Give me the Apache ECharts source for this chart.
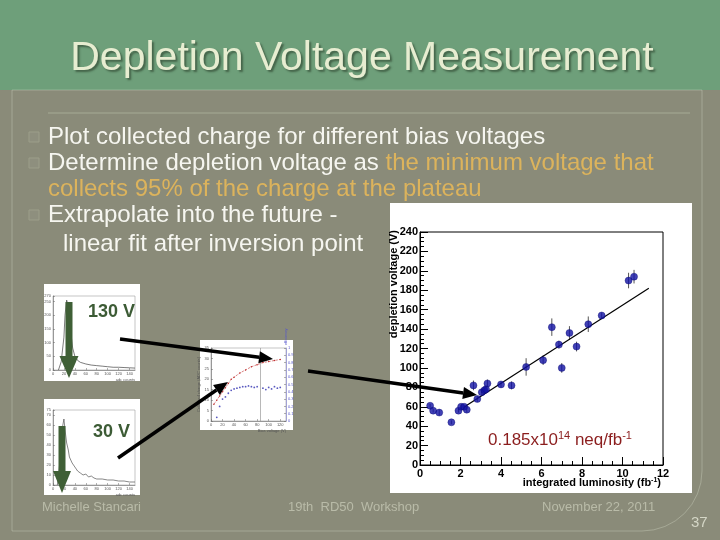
<!DOCTYPE html>
<html>
<head>
<meta charset="utf-8">
<script src="https://cdn.jsdelivr.net/npm/echarts@6/dist/echarts.min.js"></script>
<style>
html,body{margin:0;padding:0;background:#8a8b79;}
#chart{width:720px;height:540px;}
</style>
</head>
<body>
<div id="chart"></div>
<script>
// main plot: depletion voltage vs integrated luminosity
var lumi    = [0.50, 0.65, 0.95, 1.55, 1.90, 2.03, 2.18, 2.31, 2.64, 2.83, 3.05, 3.18, 3.26, 3.33, 4.00, 4.52, 5.24, 6.08, 6.51, 6.86, 7.00, 7.38, 7.73, 8.31, 8.97, 10.30, 10.57];
var vdep    = [61, 56, 54, 44, 56, 60, 60, 57, 82, 68, 75, 77, 78, 84, 83, 82, 101, 108, 142, 124, 100, 136, 122, 145, 154, 190, 194];
var vdepErr = [2, 2, 3, 2, 2, 2, 2, 3, 5, 3, 3, 3, 3, 4, 3, 4, 9, 5, 9, 4, 5, 7, 5, 8, 3, 8, 7];
var fitLumi = [2.2, 11.3];
var fitVdep = [60, 182];

// thumbnail 130 V charge spectrum
var adc130 = [10, 15, 20, 22, 25, 27, 30, 33, 36, 40, 45, 50, 55, 60, 70, 80, 90, 100, 110, 120, 130, 140, 150];
var cnt130 = [0, 30, 120, 200, 255, 240, 190, 130, 80, 50, 35, 28, 25, 22, 18, 16, 14, 12, 10, 10, 9, 8, 7];
// thumbnail 30 V charge spectrum
var adc30 = [8, 12, 15, 18, 20, 22, 25, 28, 30, 35, 40, 45, 50, 55, 60, 65, 70, 75, 80, 90, 100, 110, 120, 130, 140, 150];
var cnt30 = [0, 20, 45, 60, 66, 55, 42, 35, 28, 22, 18, 14, 12, 10, 11, 8, 9, 7, 6, 6, 5, 5, 4, 4, 3, 3];
// thumbnail bias scan
var biasV   = [5, 10, 15, 20, 25, 30, 35, 40, 50, 60, 70, 80, 90, 100, 110, 120];
var charge  = [8, 10, 12, 14, 16, 18, 20, 21, 23, 24.5, 26, 27, 28, 28.5, 29, 29.5];
var biasV2  = [10, 15, 20, 25, 30, 35, 40, 45, 50, 55, 60, 65, 70, 75, 80, 90, 95, 100, 105, 110, 115, 120];
var ratio   = [0.05, 0.2, 0.3, 0.33, 0.38, 0.42, 0.44, 0.45, 0.46, 0.47, 0.47, 0.48, 0.47, 0.46, 0.47, 0.45, 0.43, 0.46, 0.44, 0.47, 0.45, 0.46];

var FONT = 'Liberation Sans, Arial, sans-serif';

function zip(a, b) {
    return a.map(function (v, i) { return [v, b[i]]; });
}

function arrow(x1, y1, x2, y2, w, hl, hw, color) {
    var dx = x2 - x1, dy = y2 - y1, L = Math.sqrt(dx * dx + dy * dy);
    var ux = dx / L, uy = dy / L, px = -uy, py = ux;
    var bx = x2 - ux * hl, by = y2 - uy * hl;
    return [
        {type: 'line', z: 100, shape: {x1: x1, y1: y1, x2: bx, y2: by}, style: {stroke: color, lineWidth: w}},
        {type: 'polygon', z: 100, shape: {points: [[x2, y2], [bx + px * hw / 2, by + py * hw / 2], [bx - px * hw / 2, by - py * hw / 2]]}, style: {fill: color}}
    ];
}

function smallAxis(grid, min, max, interval, extra) {
    var a = {
        gridIndex: grid, type: 'value', min: min, max: max, interval: interval,
        axisLine: {lineStyle: {color: '#666', width: 0.6}},
        axisTick: {inside: true, length: 2, lineStyle: {color: '#666', width: 0.5}},
        splitLine: {show: false},
        axisLabel: {fontSize: 4, color: '#555', margin: 2, fontFamily: FONT}
    };
    for (var k in extra) a[k] = extra[k];
    return a;
}

var chart = echarts.init(document.getElementById('chart'));

var g = [];
// slide background pieces
g.push({type: 'rect', z: -30, shape: {x: 0, y: 0, width: 720, height: 90}, style: {fill: '#6e9f7a'}});
g.push({type: 'rect', z: -29, shape: {x: 12, y: 90, width: 690, height: 441, r: [0, 0, 60, 0]},
        style: {fill: 'none', stroke: 'rgba(230,235,215,0.3)', lineWidth: 1}});
g.push({type: 'line', z: -29, shape: {x1: 48, y1: 113, x2: 690, y2: 113}, style: {stroke: 'rgba(200,210,185,0.45)', lineWidth: 1}});
g.push({type: 'text', z: 10, x: 362, y: 59, style: {
    text: 'Depletion Voltage Measurement', font: '41px ' + FONT, fill: '#e7edd1',
    align: 'center', verticalAlign: 'middle',
    textShadowColor: 'rgba(40,60,40,0.6)', textShadowOffsetX: 2, textShadowOffsetY: 2, textShadowBlur: 2
}});

// bullets
[137, 163, 215].forEach(function (y) {
    g.push({type: 'rect', z: 10, shape: {x: 29, y: y - 5, width: 10, height: 10},
            style: {fill: 'rgba(255,255,255,0.04)', stroke: '#9c9e8a', lineWidth: 1}});
});
var BFONT = '24px ' + FONT;
function btext(x, y, txt, fill) {
    g.push({type: 'text', z: 10, x: x, y: y, style: {text: txt, font: BFONT, fill: fill || '#f6f6f0', verticalAlign: 'middle'}});
}
btext(48, 137, 'Plot collected charge for different bias voltages');
g.push({type: 'text', z: 10, x: 48, y: 163, style: {
    text: '{w|Determine depletion voltage as }{o|the minimum voltage that}',
    verticalAlign: 'middle',
    rich: {
        w: {font: BFONT, fill: '#f6f6f0'},
        o: {font: BFONT, fill: '#dcb35c'}
    }
}});
btext(48, 189, 'collects 95% of the charge at the plateau', '#dcb35c');
btext(48, 215, 'Extrapolate into the future -');
btext(63, 244, 'linear fit after inversion point');

// white panels behind the plots
g.push({type: 'rect', z: -10, shape: {x: 390, y: 203, width: 302, height: 290}, style: {fill: '#ffffff'}});
g.push({type: 'rect', z: -10, shape: {x: 44, y: 284, width: 96, height: 97}, style: {fill: '#ffffff'}});
g.push({type: 'rect', z: -10, shape: {x: 44, y: 399, width: 96, height: 96}, style: {fill: '#ffffff'}});
g.push({type: 'rect', z: -10, shape: {x: 200, y: 340, width: 93, height: 90}, style: {fill: '#ffffff'}});

// main plot axis titles
g.push({type: 'text', z: 10, x: 394, y: 230, rotation: Math.PI / 2, style: {
    text: 'depletion voltage (V)', font: 'bold 11px ' + FONT, fill: '#000',
    align: 'right', verticalAlign: 'middle'
}});
g.push({type: 'text', z: 10, x: 661, y: 483, style: {
    text: '{n|integrated luminosity (fb}{s|-1}{n|)}', align: 'right', verticalAlign: 'middle',
    rich: {
        n: {font: 'bold 11px ' + FONT, fill: '#000', lineHeight: 13},
        s: {font: 'bold 7px ' + FONT, fill: '#000', verticalAlign: 'top', lineHeight: 13}
    }
}});
g.push({type: 'text', z: 10, x: 488, y: 440, style: {
    text: '{n|0.185x10}{s|14}{n| neq/fb}{s|-1}', verticalAlign: 'middle',
    rich: {
        n: {font: '17px ' + FONT, fill: '#8b1d1d', lineHeight: 19},
        s: {font: '11px ' + FONT, fill: '#8b1d1d', verticalAlign: 'top', lineHeight: 19}
    }
}});

// voltage labels on thumbnails
g.push({type: 'text', z: 60, x: 88, y: 312, style: {text: '130 V', font: 'bold 18px ' + FONT, fill: '#3c5b35', verticalAlign: 'middle'}});
g.push({type: 'text', z: 60, x: 93, y: 432, style: {text: '30 V', font: 'bold 18px ' + FONT, fill: '#3c5b35', verticalAlign: 'middle'}});

// arrows
g = g.concat(arrow(69, 302, 69, 378, 7, 22, 19, '#3f5f36'));
g = g.concat(arrow(62, 426, 62, 493, 7, 22, 18, '#3f5f36'));
g = g.concat(arrow(120, 339, 273, 359, 3.5, 14, 12, '#000'));
g = g.concat(arrow(118, 458, 228, 382, 3.5, 14, 12, '#000'));
g = g.concat(arrow(308, 371, 477, 395, 3.5, 14, 12, '#000'));

// footer
var footFont = '13px ' + FONT;
g.push({type: 'text', z: 10, x: 42, y: 507, style: {text: 'Michelle Stancari', font: footFont, fill: '#b9bba8', verticalAlign: 'middle'}});
g.push({type: 'text', z: 10, x: 288, y: 507, style: {text: '19th  RD50  Workshop', font: footFont, fill: '#b9bba8', verticalAlign: 'middle'}});
g.push({type: 'text', z: 10, x: 542, y: 507, style: {text: 'November 22, 2011', font: footFont, fill: '#b9bba8', verticalAlign: 'middle'}});
g.push({type: 'text', z: 10, x: 691, y: 523, style: {text: '37', font: '15px ' + FONT, fill: '#d4d6c6', verticalAlign: 'middle'}});

var mainAxisLabel = {color: '#000', fontWeight: 'bold', fontSize: 11, fontFamily: FONT};

var option = {
    backgroundColor: '#8a8b79',
    animation: false,
    graphic: {elements: g},
    grid: [
        {left: 420, top: 232, width: 243, height: 233, show: true, borderColor: '#000', borderWidth: 1, backgroundColor: 'transparent'},
        {left: 53, top: 296, width: 82, height: 74, show: true, borderColor: '#888', borderWidth: 0.5, backgroundColor: 'transparent'},
        {left: 53, top: 410, width: 82, height: 75, show: true, borderColor: '#888', borderWidth: 0.5, backgroundColor: 'transparent'},
        {left: 211, top: 348, width: 75, height: 73, show: true, borderColor: '#888', borderWidth: 0.5, backgroundColor: 'transparent'}
    ],
    xAxis: [
        {
            gridIndex: 0, type: 'value', min: 0, max: 12, interval: 2,
            axisLine: {lineStyle: {color: '#000', width: 1}},
            axisTick: {inside: true, length: 8, lineStyle: {color: '#000'}},
            minorTick: {show: true, splitNumber: 4, length: 4, lineStyle: {color: '#000'}},
            splitLine: {show: false},
            axisLabel: Object.assign({margin: 3}, mainAxisLabel)
        },
        smallAxis(1, 0, 150, 20, {name: 'adc counts', nameLocation: 'end', nameGap: 0,
            nameTextStyle: {fontSize: 4, color: '#555', align: 'right', verticalAlign: 'top', padding: [8, 0, 0, 0]}}),
        smallAxis(2, 0, 150, 20, {name: 'adc counts', nameLocation: 'end', nameGap: 0,
            nameTextStyle: {fontSize: 4, color: '#555', align: 'right', verticalAlign: 'top', padding: [8, 0, 0, 0]}}),
        smallAxis(3, 0, 130, 20, {name: 'Bias voltage (V)', nameLocation: 'end', nameGap: 0,
            nameTextStyle: {fontSize: 4, color: '#555', align: 'right', verticalAlign: 'top', padding: [8, 0, 0, 0]}})
    ],
    yAxis: [
        {
            gridIndex: 0, type: 'value', min: 0, max: 240, interval: 20,
            axisLine: {lineStyle: {color: '#000', width: 1}},
            axisTick: {inside: true, length: 8, lineStyle: {color: '#000'}},
            minorTick: {show: true, splitNumber: 4, length: 4, lineStyle: {color: '#000'}},
            splitLine: {show: false},
            axisLabel: Object.assign({margin: 2}, mainAxisLabel)
        },
        smallAxis(1, 0, 270, 50, {}),
        smallAxis(2, 0, 75, 10, {}),
        smallAxis(3, 0, 35, 5, {name: 'Collected charge (ADC counts)', nameLocation: 'middle', nameGap: 7,
            nameTextStyle: {fontSize: 4, color: '#555'}}),
        smallAxis(3, 0, 1, 0.1, {position: 'right',
            axisLabel: {fontSize: 4, color: '#55c', margin: 2, fontFamily: FONT},
            axisLine: {lineStyle: {color: '#77c', width: 0.6}},
            name: 'efficiency', nameLocation: 'end', nameRotate: 90, nameGap: 2,
            nameTextStyle: {fontSize: 4, color: '#55c'}})
    ],
    series: [
        {
            type: 'custom', xAxisIndex: 0, yAxisIndex: 0, z: 3,
            data: lumi.map(function (x, i) { return [x, vdep[i], vdepErr[i]]; }),
            renderItem: function (params, api) {
                var x = api.value(0), y = api.value(1), e = api.value(2);
                var lo = api.coord([x, y - e]), hi = api.coord([x, y + e]);
                return {
                    type: 'line',
                    shape: {x1: lo[0], y1: lo[1], x2: hi[0], y2: hi[1]},
                    style: {stroke: '#555', lineWidth: 1}
                };
            }
        },
        {
            type: 'line', xAxisIndex: 0, yAxisIndex: 0, z: 3,
            data: zip(fitLumi, fitVdep), showSymbol: false,
            lineStyle: {color: '#000', width: 1.2}
        },
        {
            type: 'scatter', xAxisIndex: 0, yAxisIndex: 0, z: 4,
            data: zip(lumi, vdep), symbolSize: 7,
            itemStyle: {color: '#1212a4', borderColor: '#0a0a70', borderWidth: 0.5}
        },
        {
            type: 'line', xAxisIndex: 1, yAxisIndex: 1, showSymbol: false,
            data: zip(adc130, cnt130), lineStyle: {color: '#444', width: 0.7}
        },
        {
            type: 'line', xAxisIndex: 2, yAxisIndex: 2, showSymbol: false,
            data: zip(adc30, cnt30), lineStyle: {color: '#555', width: 0.7}
        },
        {
            type: 'line', xAxisIndex: 3, yAxisIndex: 3, symbol: 'circle', symbolSize: 1.5,
            data: zip(biasV, charge), itemStyle: {color: '#c03030'},
            lineStyle: {color: '#c03030', width: 0.6, type: 'dashed'},
            markLine: {
                silent: true, symbol: 'none', label: {show: false},
                lineStyle: {color: '#888', width: 0.6, type: 'solid'},
                data: [{xAxis: 85}]
            }
        },
        {
            type: 'scatter', xAxisIndex: 3, yAxisIndex: 4, symbolSize: 1.8,
            data: zip(biasV2, ratio), itemStyle: {color: '#3030b0'}
        }
    ]
};

chart.setOption(option);
</script>
</body>
</html>
